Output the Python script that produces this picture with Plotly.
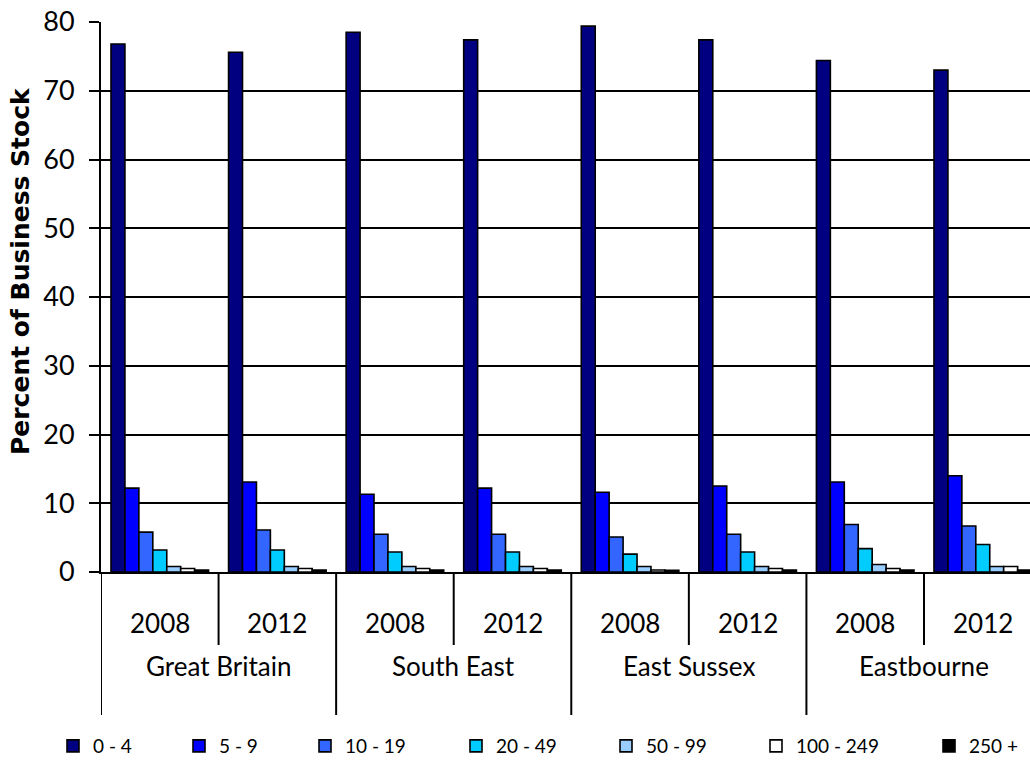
import plotly.graph_objects as go

# Business stock by employment size band, share of all businesses (%)
regions = ["Great Britain", "South East", "East Sussex", "Eastbourne"]
years = ["2008", "2012"]

size_bands = ["0 - 4", "5 - 9", "10 - 19", "20 - 49", "50 - 99", "100 - 249", "250 +"]
band_colors = ["#000080", "#0000FF", "#3366FF", "#00CCFF", "#99CCFF", "#FFFFFF", "#000000"]

# columns: GB 2008, GB 2012, SE 2008, SE 2012, ES 2008, ES 2012, EB 2008, EB 2012
share_0_4 = [76.8, 75.6, 78.5, 77.4, 79.4, 77.4, 74.4, 73.0]
share_5_9 = [12.2, 13.1, 11.3, 12.2, 11.6, 12.5, 13.1, 14.0]
share_10_19 = [5.8, 6.1, 5.5, 5.5, 5.1, 5.5, 6.9, 6.7]
share_20_49 = [3.2, 3.2, 2.9, 2.9, 2.6, 2.9, 3.4, 4.0]
share_50_99 = [0.8, 0.8, 0.8, 0.8, 0.8, 0.8, 1.1, 0.8]
share_100_249 = [0.5, 0.5, 0.5, 0.5, 0.3, 0.5, 0.5, 0.8]
share_250_plus = [0.3, 0.3, 0.3, 0.3, 0.25, 0.3, 0.3, 0.3]

band_values = [share_0_4, share_5_9, share_10_19, share_20_49,
               share_50_99, share_100_249, share_250_plus]

# legend swatch centres along the bottom, in pixels
legend_px = [73, 199, 325, 476, 626, 776, 949]

FONT = "Lato"
W, H = 1030, 760
ML, MR, MT, MB = 101, 0, 22, 188
PW, PH = W - ML - MR, H - MT - MB

positions = list(range(len(regions) * len(years)))
n_cols = len(positions)

fig = go.Figure()
legend_layouts = {}
for i, (band, vals, col) in enumerate(zip(size_bands, band_values, band_colors)):
    lg = "legend" if i == 0 else f"legend{i + 1}"
    fig.add_trace(go.Bar(
        x=positions, y=vals, name=band,
        marker=dict(color=col, line=dict(color="black", width=1.6)),
        legend=lg,
    ))
    legend_layouts[lg] = dict(
        x=(legend_px[i] - 20 - ML) / PW, xanchor="left",
        y=(MT + PH - 765) / PH, yanchor="bottom",
        orientation="h", bgcolor="rgba(0,0,0,0)",
        font=dict(family=FONT, size=19, color="black"),
        itemclick=False, itemdoubleclick=False,
    )

px_per_col = 117.57
x_max = -0.5 + PW / px_per_col

shapes = []
annotations = []
# year dividers (short) and region dividers (long) below the axis
for k in range(n_cols):
    xb = k - 0.5
    long_div = (k % len(years) == 0)
    y_end = (MT + PH - (715 if long_div else 645)) / PH
    shapes.append(dict(type="line", xref="x", yref="paper", x0=xb, x1=xb,
                       y0=0, y1=y_end, line=dict(color="black", width=2)))
for k, pos in enumerate(positions):
    annotations.append(dict(x=pos, y=(MT + PH - 623) / PH, xref="x", yref="paper",
                            text=years[k % len(years)], showarrow=False,
                            xanchor="center", yanchor="middle",
                            font=dict(family=FONT, size=26, color="black")))
for r, region in enumerate(regions):
    annotations.append(dict(x=r * len(years) + (len(years) - 1) / 2,
                            y=(MT + PH - 666) / PH, xref="x", yref="paper",
                            text=region, showarrow=False,
                            xanchor="center", yanchor="middle",
                            font=dict(family=FONT, size=26, color="black")))
annotations.append(dict(x=(20 - ML) / PW, y=(MT + PH - 271) / PH,
                        xref="paper", yref="paper",
                        text="<b>Percent of Business Stock</b>", textangle=-90,
                        showarrow=False, xanchor="center", yanchor="middle",
                        font=dict(family="DejaVu Sans", size=25, color="black")))

fig.update_layout(
    width=W, height=H,
    margin=dict(l=ML, r=MR, t=MT, b=MB, pad=0, autoexpand=False),
    paper_bgcolor="white", plot_bgcolor="white",
    barmode="group", bargap=0.17, bargroupgap=0,
    showlegend=True,
    shapes=shapes, annotations=annotations,
    xaxis=dict(range=[-0.5, x_max], showticklabels=False, showgrid=False,
               zeroline=False, showline=True, linecolor="black", linewidth=2,
               ticks=""),
    yaxis=dict(range=[0, 80], dtick=10, showgrid=True, gridcolor="black",
               gridwidth=2, zeroline=False, showline=True, linecolor="black",
               linewidth=2, ticks="outside", ticklen=10, tickwidth=2,
               tickcolor="black", ticklabelstandoff=9,
               tickfont=dict(family=FONT, size=27, color="black")),
    **legend_layouts,
)

fig.write_html("out.html")
